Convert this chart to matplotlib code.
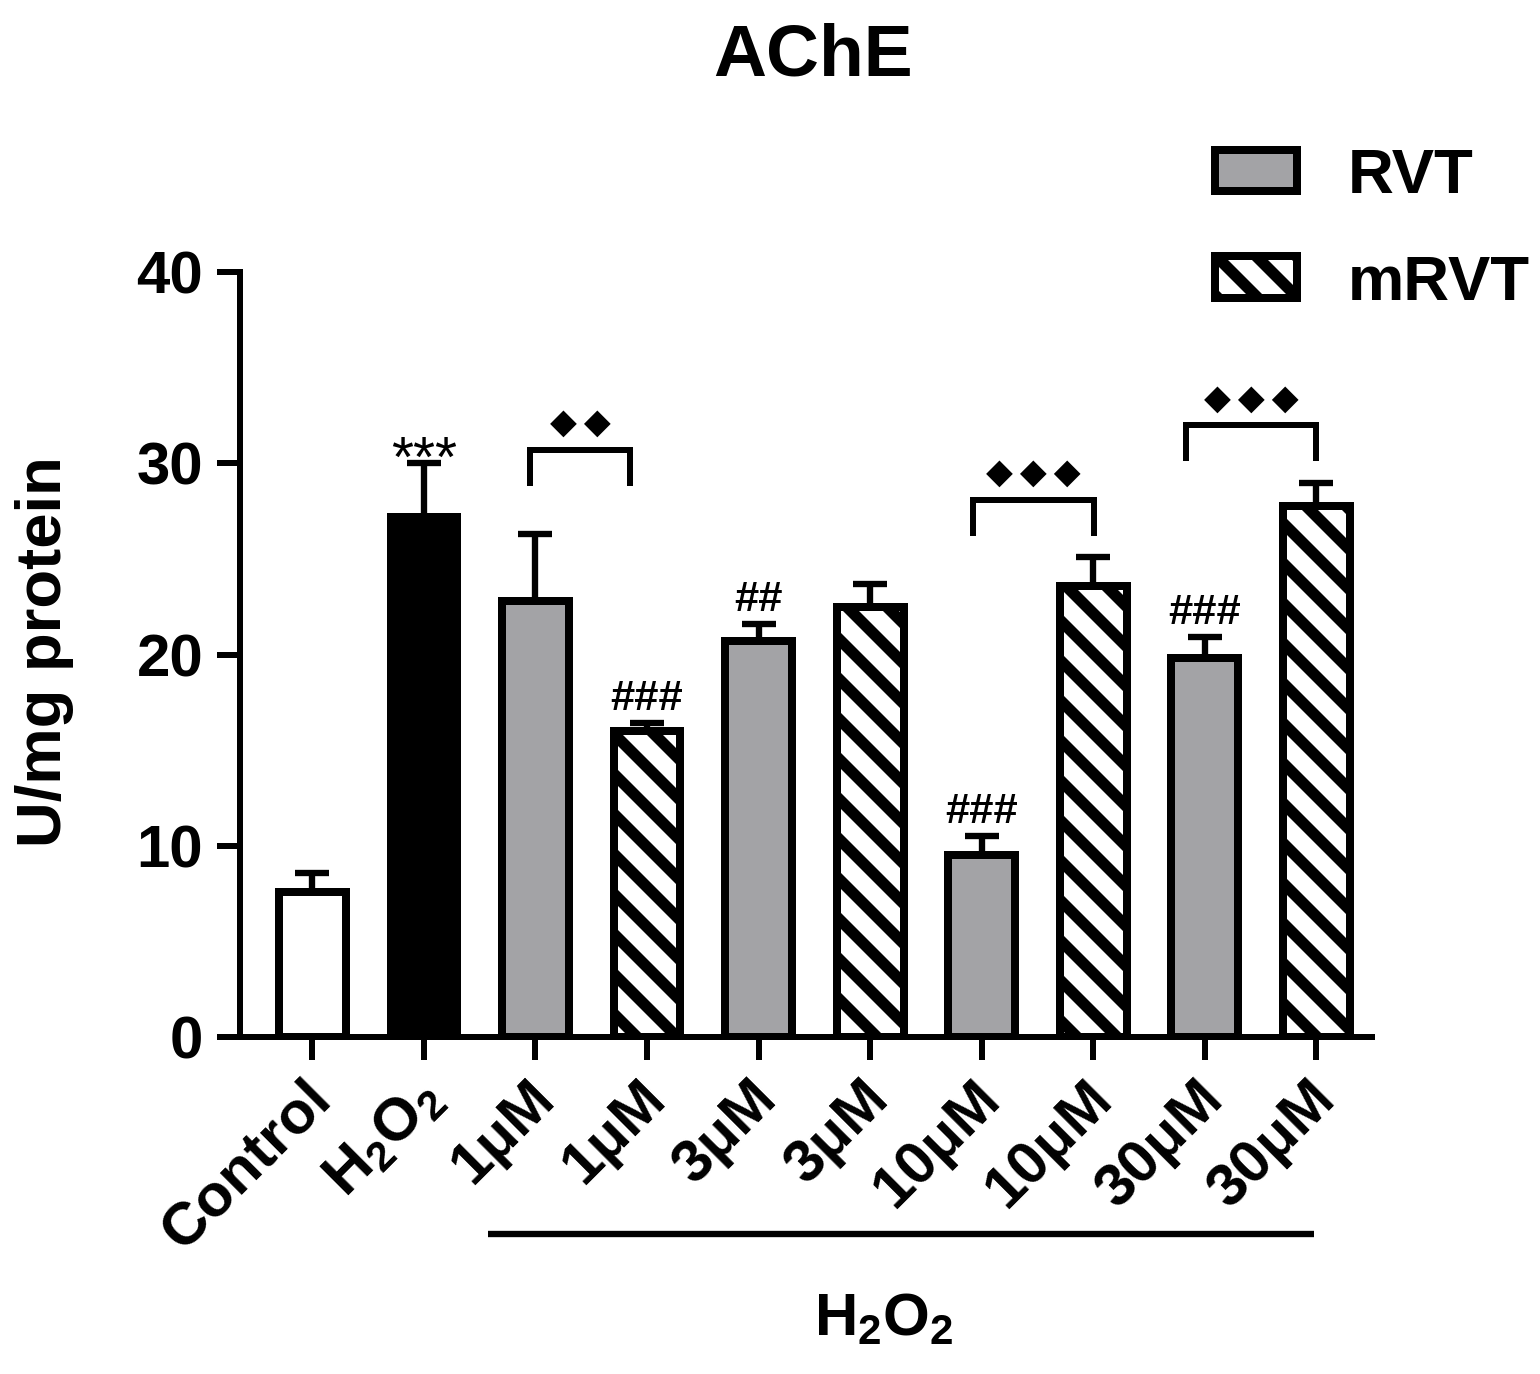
import numpy as np
import matplotlib.pyplot as plt
from matplotlib.patches import Patch
from matplotlib.transforms import blended_transform_factory, ScaledTranslation

# datos
categorias = ['Control', 'H$_2$O$_2$', '1μM', '1μM', '3μM', '3μM', '10μM', '10μM', '30μM', '30μM']
medias = [7.6, 27.2, 22.8, 16.0, 20.7, 22.5, 9.5, 23.6, 19.8, 27.75]
errores = [1.0, 2.8, 3.5, 0.4, 0.9, 1.2, 1.0, 1.5, 1.1, 1.2]
tipos = ['control', 'h2o2', 'rvt', 'mrvt', 'rvt', 'mrvt', 'rvt', 'mrvt', 'rvt', 'mrvt']
marcas = ['', '***', '', '###', '##', '', '###', '', '###', '']
# comparaciones RVT vs mRVT: (inicio, fin, altura, etiqueta)
comparaciones = [(1.95, 2.85, 30.7, '◆◆'), (5.92, 7.01, 28.1, '◆◆◆'), (7.83, 9.0, 32.0, '◆◆◆')]

gris = '#a3a3a6'
colores = {'control': 'white', 'h2o2': 'black', 'rvt': gris, 'mrvt': 'white'}
tramas = {'control': '', 'h2o2': '', 'rvt': '', 'mrvt': '\\\\'}

dpi = 240
plt.rcParams['font.family'] = ['Liberation Sans', 'DejaVu Sans']
plt.rcParams['font.weight'] = 'bold'
plt.rcParams['mathtext.fontset'] = 'custom'
plt.rcParams['mathtext.rm'] = 'Liberation Sans:bold'
plt.rcParams['mathtext.default'] = 'rm'
plt.rcParams['hatch.linewidth'] = 3.4

fig = plt.figure(figsize=(1540 / dpi, 1374 / dpi), dpi=dpi)
ax = fig.add_axes([0.1558, 0.2453, 0.7351, 0.5567])

x = np.arange(len(medias))
lw = 2.4
ax.errorbar(x, medias, yerr=[np.zeros(len(errores)), errores], fmt='none',
            ecolor='black', elinewidth=1.9, capsize=5.2, capthick=1.9, zorder=1)
for i in range(len(medias)):
    ax.bar(x[i], medias[i], width=0.6, color=colores[tipos[i]], edgecolor='black',
           linewidth=lw, hatch=tramas[tipos[i]], zorder=2)

# marcas de significancia sobre las barras
for i in range(len(medias)):
    if marcas[i] == '':
        continue
    if '*' in marcas[i]:
        ax.text(x[i], medias[i] + errores[i] - 0.7, marcas[i], ha='center', va='baseline',
                fontsize=17, fontweight='normal')
    else:
        ax.text(x[i], medias[i] + errores[i] + 0.7, marcas[i], ha='center', va='baseline',
                fontsize=13, fontweight='bold')

# corchetes
for x0, x1, h, etiqueta in comparaciones:
    ax.plot([x0, x0, x1, x1], [h - 1.9, h, h, h - 1.9], color='black', lw=1.8,
            solid_capstyle='butt', solid_joinstyle='miter', clip_on=False)
    ax.text((x0 + x1) / 2, h + 1.4, '\u2009'.join(etiqueta), ha='center', va='center',
            fontsize=10.5, family='DejaVu Sans')

ax.set_xlim(-0.65, 9.5)
ax.set_ylim(0, 40)
ax.set_yticks([0, 10, 20, 30, 40])
ax.set_xticks(x)
ax.tick_params(axis='y', labelsize=18, width=1.8, length=7, pad=4)
ax.tick_params(axis='x', width=1.8, length=7, pad=10)
ax.set_xticklabels(categorias, rotation=45, ha='right', va='center',
                   rotation_mode='anchor', fontsize=18, fontweight='bold')
desplaza = ScaledTranslation(10 / dpi, 4 / dpi, fig.dpi_scale_trans)
for lab in ax.get_xticklabels():
    lab.set_transform(lab.get_transform() + desplaza)
for lab in ax.get_yticklabels():
    lab.set_fontweight('bold')
for s in ['top', 'right']:
    ax.spines[s].set_visible(False)
for s in ['left', 'bottom']:
    ax.spines[s].set_linewidth(1.8)

# linea y etiqueta H2O2 bajo los grupos tratados
trans = blended_transform_factory(ax.transData, ax.transAxes)
ax.plot([1.57, 8.98], [-0.258, -0.258], color='black', lw=1.9, transform=trans,
        clip_on=False, solid_capstyle='butt')
ax.text(5.12, -0.39, 'H$_2$O$_2$', transform=trans, ha='center', va='baseline',
        fontsize=18)

fig.text(813 / 1540, 1 - 75 / 1374, 'AChE', ha='center', va='baseline', fontsize=22,
         fontweight='bold')
fig.text(45 / 1540, 1 - 652 / 1374, 'U/mg protein', ha='center', va='center',
         rotation=90, fontsize=19, fontweight='bold')

manejadores = [Patch(facecolor=gris, edgecolor='black', linewidth=lw, label='RVT'),
               Patch(facecolor='white', edgecolor='black', linewidth=lw, hatch='\\\\',
                     label='mRVT')]
fig.legend(handles=manejadores, loc='upper left', bbox_to_anchor=(1215 / 1540, 1 - 147 / 1374),
           frameon=False, handlelength=1.3, handleheight=0.63,
           handletextpad=0.8, labelspacing=0.75, borderpad=0, borderaxespad=0,
           prop={'weight': 'bold', 'size': 19})

fig.savefig('out.png', dpi=dpi)
